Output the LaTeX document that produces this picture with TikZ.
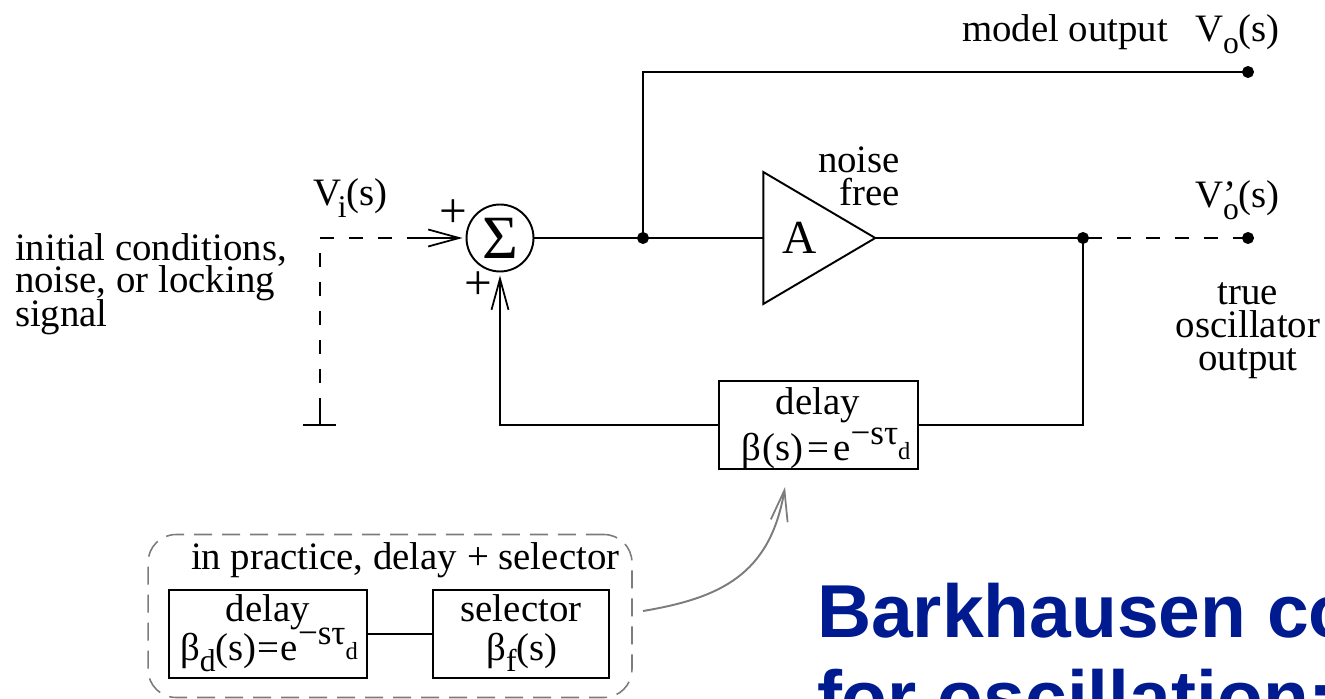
\documentclass[tikz,border=0pt]{standalone}
\usepackage{fontspec}
\setmainfont{Liberation Serif}
\newfontfamily\oscSans{Liberation Sans}
\usetikzlibrary{arrows.meta,shapes.geometric}
\definecolor{oscGray}{HTML}{7C7C7C}
\definecolor{oscBlue}{HTML}{001A90}
\tikzset{
  osc diagram/.style={
    draw=black, line width=1.1pt,
    >={Straight Barb[length=0.62cm,width=0.34cm,line width=1pt]},
    every node/.style={font=\fontsize{22.1}{18.7}\selectfont,
      text=black, inner sep=0pt, outer sep=0pt}
  },
  osc box/.style={draw, rectangle, minimum height=1.76cm},
  osc dot/.style={draw, fill=black, circle, minimum size=0.2cm},
  osc guide/.style={dash pattern=on 0.28cm off 0.3cm},
  osc frame/.style={draw=oscGray, line width=0.9pt, rounded corners=0.56cm,
    dash pattern=on 0.36cm off 0.2cm},
  osc title/.style={font=\oscSans\bfseries\fontsize{42.7}{42.7}\selectfont,
    text=oscBlue, anchor=base west}
}
\newcommand{\OscSub}[1]{\raisebox{-0.3em}{\fontsize{18}{18}\selectfont #1}}
\newcommand{\OscSup}[1]{\raisebox{0.4em}{\fontsize{20}{20}\selectfont #1}}
\newcommand{\OscTau}{\OscSup{−sτ}\raisebox{0.02em}{\fontsize{14}{14}\selectfont d}}

\begin{document}
\begin{tikzpicture}[osc diagram,x=0.02cm,y=-0.02cm]
  \useasboundingbox (0,0) rectangle (1325,699);
  \clip (0,0) rectangle (1325,699);

  % main loop
  \node[draw, circle, minimum size=1.34cm] (sum) at (500,238)
    {\fontsize{35}{35}\selectfont Σ};
  \node[draw, isosceles triangle, isosceles triangle stretches, minimum width=2.64cm,
    minimum height=2.24cm] (amp) at (801,238) {};
  \node (gain) at (800,238) {\fontsize{27}{27}\selectfont A};
  \node[osc dot] (split) at (643,238) {};
  \node[osc dot] (fork) at (1083,238) {};
  \node[osc dot] (modelout) at (1248,72) {};
  \node[osc dot] (trueout) at (1248,238) {};
  \node[osc box, minimum width=3.98cm] (delay) at (818.5,425) {};
  \node[anchor=base] (delaytext) at (818,414) {delay};
  \node[anchor=base west] (betatext) at (741,460)
    {β\kern0.05em(s)\kern0.1em=\kern0.1eme\OscTau};
  \coordinate (corner) at (320,238);
  \coordinate (cornerdrop) at (320,253);
  \coordinate (gndstub) at (320,398);
  \coordinate (dashend) at (393,238);
  \coordinate (dashtip) at (407,238);
  \coordinate (gnd) at (320,425);
  \coordinate (gndl) at (303,425);
  \coordinate (gndr) at (336,425);

  \draw (sum.east) -- (split);
  \draw (split) -- (amp.west);
  \draw (amp.east) -- (fork);
  \draw[osc guide] (fork) -- (trueout);
  \draw (split) |- (modelout);
  \draw (fork) |- (delay.east);
  \draw[->,shorten >=0.08cm] (delay.west) -| (sum.south);
  \draw[osc guide] (cornerdrop) -- (gndstub);
  \draw (gndstub) -- (gnd);
  \draw[osc guide] (corner) -- (dashend);
  \draw[->,shorten >=0.08cm] (dashtip) -- (sum.west);
  \draw (gndl) -- (gndr);

  % labels
  \node[anchor=base west] (modellabel) at (962,42) {model output};
  \node[anchor=base west] (vo) at (1195,42) {V\OscSub{o}(s)};
  \node[anchor=base west] (votrue) at (1195,208)
    {V\rlap{’}\OscSub{o}(s)};
  \node[anchor=base west] (vi) at (313,206) {V\kern-0.08em\OscSub{i}(s)};
  \node[anchor=base east] (noise) at (900,173) {noise};
  \node[anchor=base east] (free) at (900,206) {free};
  \node[anchor=base] (truelabel) at (1248,304) {true};
  \node[anchor=base] (osclabel) at (1248,337) {oscillator};
  \node[anchor=base] (outlabel) at (1248,370) {output};
  \node[anchor=base west] (init) at (15,260) {initial conditions,};
  \node[anchor=base west] (noisy) at (15,293) {noise, or locking};
  \node[anchor=base west] (sig) at (15,326) {signal};
  \node (plusa) at (453,214) {\fontsize{28}{28}\selectfont +};
  \node (plusb) at (478,286) {\fontsize{28}{28}\selectfont +};

  % inset
  \node[osc frame, draw, rectangle, minimum width=9.68cm, minimum height=3.26cm]
    (frame) at (390,616) {};
  \node[anchor=base west] (framelabel) at (191,569) {in practice, delay + selector};
  \node[osc box, minimum width=3.96cm] (delayd) at (268,634) {};
  \node[osc box, minimum width=3.52cm] (selector) at (521,634) {};
  \node[anchor=base] (delaydtext) at (268,621) {delay};
  \node[anchor=base west] (betadtext) at (180,660)
    {β\OscSub{d}(s)\kern0.03em=\kern0.03eme\OscTau};
  \node[anchor=base] (selectortext) at (521,621) {selector};
  \node[anchor=base] (betaftext) at (522,660) {β\OscSub{f}(s)};
  \draw (delayd) -- (selector);
  \coordinate (framearm) at (643,611);
  \coordinate (delayarm) at (785,487);
  \draw[->,draw=oscGray] (framearm) .. controls (720,598) and (770,575) .. (delayarm);

  % title, cut by the page
  \node[osc title] (titlea) at (817,637) {Barkhausen co};
  \node[osc title] (titleb) at (817,723) {for oscillation:};
\end{tikzpicture}
\end{document}
